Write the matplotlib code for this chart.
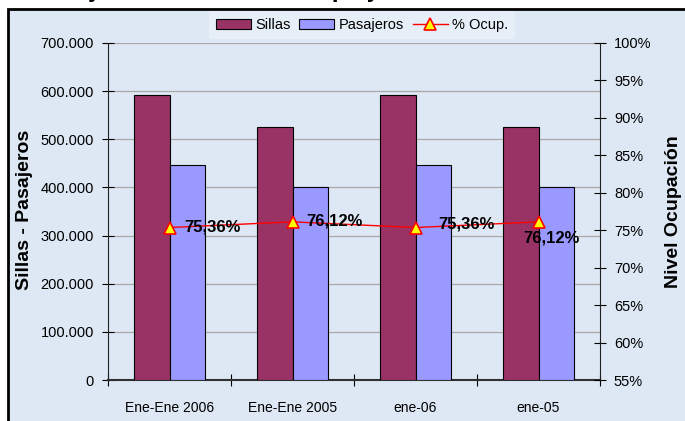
import numpy as np
import matplotlib
matplotlib.use('Agg')
import matplotlib.pyplot as plt
from matplotlib.patches import Rectangle, Patch
from matplotlib.lines import Line2D
from matplotlib.ticker import FuncFormatter, MultipleLocator

categories = ['Ene-Ene 2006', 'Ene-Ene 2005', 'ene-06', 'ene-05']
sillas = [593000, 525000, 593000, 525000]
pasajeros = [447000, 400000, 447000, 400000]
ocupacion = [0.7536, 0.7612, 0.7536, 0.7612]
ocup_labels = ['75,36%', '76,12%', '75,36%', '76,12%']
label_offsets = [(15, 1), (14, 1), (23, 4), (-15, -16)]

plt.rcParams['font.family'] = ['Liberation Sans', 'DejaVu Sans']

W, H = 685, 421
fig = plt.figure(figsize=(W / 100, H / 100), dpi=100, facecolor='white')

# fondo del grafico con borde
bg = Rectangle((8 / W, -0.1), 1.2, (H - 9) / H + 0.1, transform=fig.transFigure,
               facecolor='#dde8f4', edgecolor='black', lw=2, zorder=-5)
fig.patches.append(bg)

# titulo cortado arriba (solo se ven los trazos inferiores)
fig.text(10 / W, 1 + 2 / H, 'Oferta y Demanda Total - Grupo y Periodo', fontsize=14,
         fontweight='bold', va='baseline', ha='left', family='DejaVu Sans')

ax = fig.add_axes([108 / W, (H - 380) / H, (600 - 108) / W, (380 - 43) / H])
ax.set_facecolor('none')
x = np.arange(len(categories))
w = 0.29
ax.bar(x - w / 2, sillas, w, color='#993366', edgecolor='black', lw=0.8, label='Sillas', zorder=3)
ax.bar(x + w / 2, pasajeros, w, color='#9999ff', edgecolor='black', lw=0.8, label='Pasajeros', zorder=3)
ax.set_xlim(-0.5, len(categories) - 0.5)
ax.set_ylim(0, 700000)
ax.yaxis.set_major_locator(MultipleLocator(100000))
ax.yaxis.set_major_formatter(FuncFormatter(lambda v, p: '0' if v == 0 else f'{int(v):,}'.replace(',', '.')))
ax.grid(axis='y', color='#a8a8a8', lw=0.9, zorder=1)
ax.set_axisbelow(True)

ax.set_xticks(np.arange(len(categories) + 1) - 0.5)
ax.set_xticklabels([])
ax.set_xticks(x, minor=True)
ax.set_xticklabels(categories, minor=True)
ax.tick_params(axis='x', which='major', direction='inout', length=8, width=0.8)
ax.tick_params(axis='x', which='minor', length=0, pad=15, labelsize=10)
ax.tick_params(axis='y', direction='inout', length=8, width=0.8, pad=6, labelsize=10.5)
ax.spines['top'].set_visible(False)
ax.spines['right'].set_visible(False)
ax.spines['left'].set_color('#202020')
ax.spines['bottom'].set_color('#303030')
ax.spines['bottom'].set_lw(1.5)

ax2 = ax.twinx()
ax2.plot(x, ocupacion, color='red', lw=1, marker='^', ms=9, mfc='#ffff00', mec='red', mew=1.2,
         zorder=5, clip_on=False)
ax2.set_ylim(0.55, 1.0)
ax2.yaxis.set_major_locator(MultipleLocator(0.05))
ax2.yaxis.set_major_formatter(FuncFormatter(lambda v, p: f'{round(v * 100):d}%'))
ax2.tick_params(axis='y', direction='inout', length=8, width=0.8, pad=6, labelsize=10.5)
for s in ['top', 'left', 'bottom']:
    ax2.spines[s].set_visible(False)
ax2.spines['right'].set_color('#202020')
for xi, yi, lab, off in zip(x, ocupacion, ocup_labels, label_offsets):
    ax2.annotate(lab, (xi, yi), xytext=off, textcoords='offset pixels', fontsize=12,
                 fontweight='bold', ha='left', va='center', zorder=6)

fig.text(25 / W, 211 / H, 'Sillas - Pasajeros', rotation=90, fontsize=14, fontweight='bold',
         ha='center', va='center')
fig.text(673 / W, 209 / H, 'Nivel Ocupación', rotation=90, fontsize=14, fontweight='bold',
         ha='center', va='center')

handles = [Patch(facecolor='#993366', edgecolor='black', lw=0.8),
           Patch(facecolor='#9999ff', edgecolor='black', lw=0.8),
           Line2D([], [], color='red', lw=1, marker='^', ms=9, mfc='#ffff00', mec='red', mew=1.2)]
leg = fig.legend(handles, ['Sillas', 'Pasajeros', '% Ocup.'], loc='center', ncol=3,
                 bbox_to_anchor=(362 / W, (H - 25) / H), fontsize=10.5,
                 frameon=True, handlelength=2.4, handletextpad=0.3, columnspacing=0.6,
                 borderpad=0.5)
leg.get_frame().set_facecolor('#e6eef8')
leg.get_frame().set_edgecolor('none')
leg.get_frame().set_alpha(1)

fig.savefig('out.png', dpi=100)
